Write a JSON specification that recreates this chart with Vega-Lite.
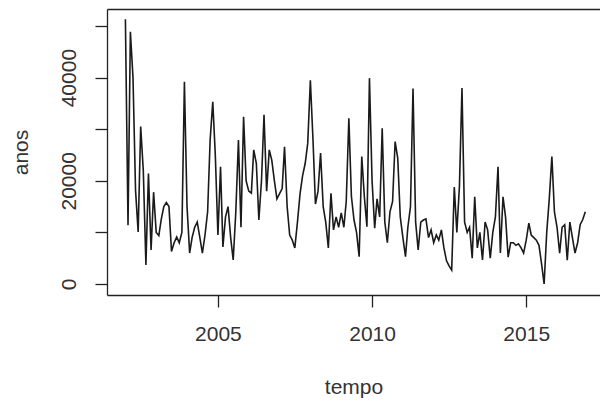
{
  "$schema": "https://vega.github.io/schema/vega-lite/v6.json",
  "width": 493,
  "height": 286,
  "autosize": {"type": "none"},
  "padding": {"left": 107, "top": 9, "right": 0, "bottom": 108},
  "background": "white",
  "config": {
    "view": {"stroke": null},
    "font": "Liberation Sans",
    "axis": {"grid": false, "domainColor": "#222", "domainWidth": 1.3, "tickColor": "#222", "tickWidth": 1.3, "tickSize": 12, "labelColor": "#333", "titleColor": "#333", "labelFont": "Liberation Sans", "titleFont": "Liberation Sans", "labelFontSize": 21, "titleFontSize": 21, "titleFontWeight": "normal"}
  },
  "data": {"values": [
    {"d":"2002-01","v":51300},{"d":"2002-02","v":11400},{"d":"2002-03","v":48900},{"d":"2002-04","v":40000},{"d":"2002-05","v":18200},{"d":"2002-06","v":10100},{"d":"2002-07","v":30500},{"d":"2002-08","v":22000},{"d":"2002-09","v":3700},{"d":"2002-10","v":21400},{"d":"2002-11","v":6600},{"d":"2002-12","v":17800},
    {"d":"2003-01","v":10000},{"d":"2003-02","v":9400},{"d":"2003-03","v":12500},{"d":"2003-04","v":15000},{"d":"2003-05","v":15800},{"d":"2003-06","v":15000},{"d":"2003-07","v":6300},{"d":"2003-08","v":8000},{"d":"2003-09","v":9100},{"d":"2003-10","v":8000},{"d":"2003-11","v":10000},{"d":"2003-12","v":39200},
    {"d":"2004-01","v":15000},{"d":"2004-02","v":6000},{"d":"2004-03","v":9000},{"d":"2004-04","v":11000},{"d":"2004-05","v":12000},{"d":"2004-06","v":9000},{"d":"2004-07","v":6000},{"d":"2004-08","v":9500},{"d":"2004-09","v":14000},{"d":"2004-10","v":28000},{"d":"2004-11","v":35300},{"d":"2004-12","v":25000},
    {"d":"2005-01","v":9500},{"d":"2005-02","v":22700},{"d":"2005-03","v":7200},{"d":"2005-04","v":13000},{"d":"2005-05","v":15000},{"d":"2005-06","v":9000},{"d":"2005-07","v":4650},{"d":"2005-08","v":14000},{"d":"2005-09","v":27900},{"d":"2005-10","v":11000},{"d":"2005-11","v":32400},{"d":"2005-12","v":20000},
    {"d":"2006-01","v":18000},{"d":"2006-02","v":17600},{"d":"2006-03","v":26000},{"d":"2006-04","v":23400},{"d":"2006-05","v":12400},{"d":"2006-06","v":20000},{"d":"2006-07","v":32800},{"d":"2006-08","v":18000},{"d":"2006-09","v":26000},{"d":"2006-10","v":24000},{"d":"2006-11","v":20000},{"d":"2006-12","v":16500},
    {"d":"2007-01","v":17500},{"d":"2007-02","v":18500},{"d":"2007-03","v":26600},{"d":"2007-04","v":15000},{"d":"2007-05","v":9500},{"d":"2007-06","v":8500},{"d":"2007-07","v":7000},{"d":"2007-08","v":12000},{"d":"2007-09","v":17500},{"d":"2007-10","v":21000},{"d":"2007-11","v":23400},{"d":"2007-12","v":27300},
    {"d":"2008-01","v":39500},{"d":"2008-02","v":28000},{"d":"2008-03","v":15500},{"d":"2008-04","v":18000},{"d":"2008-05","v":25400},{"d":"2008-06","v":15000},{"d":"2008-07","v":12000},{"d":"2008-08","v":7000},{"d":"2008-09","v":17600},{"d":"2008-10","v":10500},{"d":"2008-11","v":13000},{"d":"2008-12","v":11000},
    {"d":"2009-01","v":13800},{"d":"2009-02","v":11000},{"d":"2009-03","v":16000},{"d":"2009-04","v":32100},{"d":"2009-05","v":17000},{"d":"2009-06","v":12400},{"d":"2009-07","v":10000},{"d":"2009-08","v":5300},{"d":"2009-09","v":24700},{"d":"2009-10","v":17000},{"d":"2009-11","v":11100},{"d":"2009-12","v":39900},
    {"d":"2010-01","v":20000},{"d":"2010-02","v":10800},{"d":"2010-03","v":16500},{"d":"2010-04","v":13000},{"d":"2010-05","v":30200},{"d":"2010-06","v":12000},{"d":"2010-07","v":8000},{"d":"2010-08","v":14000},{"d":"2010-09","v":16000},{"d":"2010-10","v":27600},{"d":"2010-11","v":24400},{"d":"2010-12","v":13000},
    {"d":"2011-01","v":9000},{"d":"2011-02","v":5300},{"d":"2011-03","v":11000},{"d":"2011-04","v":15000},{"d":"2011-05","v":37900},{"d":"2011-06","v":12000},{"d":"2011-07","v":6600},{"d":"2011-08","v":12000},{"d":"2011-09","v":12400},{"d":"2011-10","v":12600},{"d":"2011-11","v":9000},{"d":"2011-12","v":10500},
    {"d":"2012-01","v":8000},{"d":"2012-02","v":9500},{"d":"2012-03","v":8500},{"d":"2012-04","v":10500},{"d":"2012-05","v":7000},{"d":"2012-06","v":4500},{"d":"2012-07","v":3500},{"d":"2012-08","v":2700},{"d":"2012-09","v":18800},{"d":"2012-10","v":10000},{"d":"2012-11","v":19000},{"d":"2012-12","v":38000},
    {"d":"2013-01","v":12000},{"d":"2013-02","v":10000},{"d":"2013-03","v":11000},{"d":"2013-04","v":5000},{"d":"2013-05","v":16900},{"d":"2013-06","v":7000},{"d":"2013-07","v":10000},{"d":"2013-08","v":4650},{"d":"2013-09","v":12000},{"d":"2013-10","v":10500},{"d":"2013-11","v":5000},{"d":"2013-12","v":10000},
    {"d":"2014-01","v":13000},{"d":"2014-02","v":22700},{"d":"2014-03","v":6000},{"d":"2014-04","v":16900},{"d":"2014-05","v":13000},{"d":"2014-06","v":5200},{"d":"2014-07","v":8000},{"d":"2014-08","v":8000},{"d":"2014-09","v":7500},{"d":"2014-10","v":7800},{"d":"2014-11","v":7000},{"d":"2014-12","v":6000},
    {"d":"2015-01","v":8500},{"d":"2015-02","v":11800},{"d":"2015-03","v":9500},{"d":"2015-04","v":9000},{"d":"2015-05","v":8500},{"d":"2015-06","v":7500},{"d":"2015-07","v":4000},{"d":"2015-08","v":0},{"d":"2015-09","v":10000},{"d":"2015-10","v":16500},{"d":"2015-11","v":24700},{"d":"2015-12","v":14000},
    {"d":"2016-01","v":11000},{"d":"2016-02","v":6000},{"d":"2016-03","v":11000},{"d":"2016-04","v":11500},{"d":"2016-05","v":4600},{"d":"2016-06","v":12000},{"d":"2016-07","v":9000},{"d":"2016-08","v":6000},{"d":"2016-09","v":8000},{"d":"2016-10","v":11500},{"d":"2016-11","v":12500},{"d":"2016-12","v":14000}
  ]},
  "resolve": {"axis": {"x": "independent"}},
  "layer": [
    {
      "mark": {"type": "line", "color": "#1a1a1a", "strokeWidth": 1.6, "clip": true},
      "encoding": {
        "x": {"field": "d", "type": "temporal",
          "scale": {"type": "utc", "domain": [{"year": 2001, "month": "may", "date": 28, "utc": true}, {"year": 2017, "month": "may", "date": 24, "utc": true}]},
          "axis": {"orient": "bottom", "values": [{"year": 2005, "utc": true}, {"year": 2010, "utc": true}, {"year": 2015, "utc": true}], "format": "%Y", "labelPadding": 16, "labelFlush": false, "labelOverlap": false, "title": "tempo", "titlePadding": 32}},
        "y": {"field": "v", "type": "quantitative",
          "scale": {"domain": [-2130, 53300], "nice": false, "zero": false},
          "axis": {"values": [0, 10000, 20000, 30000, 40000, 50000], "labelExpr": "datum.value % 20000 == 0 ? datum.value : ''", "labelAngle": -90, "labelAlign": "center", "labelBaseline": "bottom", "labelPadding": 16, "labelFlush": false, "labelOverlap": false, "title": "anos", "titlePadding": 27}}
      }
    },
    {
      "mark": {"type": "line", "opacity": 0},
      "encoding": {
        "x": {"field": "d", "type": "temporal", "axis": {"orient": "top", "labels": false, "ticks": false, "title": null, "domain": true}},
        "y": {"field": "v", "type": "quantitative"}
      }
    }
  ]
}
